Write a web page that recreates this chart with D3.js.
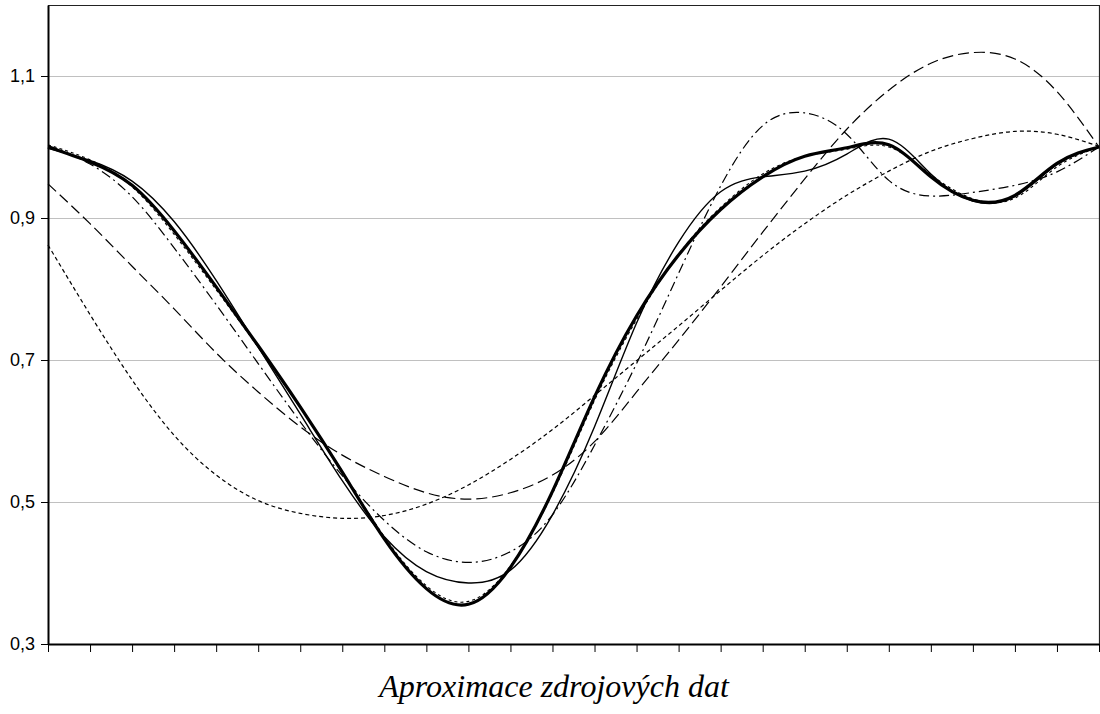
<!DOCTYPE html>
<head>
  <title>Aproximace zdrojových dat</title>
  <script type="text/javascript" src="https://d3js.org/d3.v7.min.js"></script>
  <style>
    body { margin: 0; background: #fff; }
    .grid { stroke: #c0c0c0; stroke-width: 1; }
    .axis text { font-family: "Liberation Sans", Arial, sans-serif; font-size: 18px; fill: #000; }
    .axis line { stroke: #000; stroke-width: 1; }
    .axis path { stroke: #000; stroke-width: 2; }
  </style>
</head>
<body>
<script type="text/javascript">
  // category positions (no labels on the x axis)
  var points = d3.range(0, 26);
  var yTicks = [0.3, 0.5, 0.7, 0.9, 1.1];
  var gridValues = [0.5, 0.7, 0.9, 1.1];

  // source data (thick line)
  var zdroj = [1.000, 0.979, 0.946, 0.882, 0.803, 0.720, 0.634, 0.542, 0.448, 0.378, 0.356, 0.408, 0.515,
               0.648, 0.762, 0.848, 0.912, 0.958, 0.987, 0.999, 1.003, 0.958, 0.925, 0.932, 0.977, 1.000];
  // approximations
  var aprox1 = [0.998, 0.981, 0.952, 0.895, 0.812, 0.718, 0.624, 0.530, 0.451, 0.402, 0.386, 0.404, 0.482,
                0.606, 0.752, 0.866, 0.937, 0.958, 0.966, 0.990, 1.011, 0.962, 0.924, 0.930, 0.975, 1.000];
  var aprox2 = [1.003, 0.982, 0.944, 0.877, 0.799, 0.718, 0.633, 0.543, 0.451, 0.382, 0.360, 0.410, 0.512,
                0.643, 0.757, 0.849, 0.915, 0.962, 0.987, 0.997, 1.000, 0.961, 0.927, 0.928, 0.972, 1.000];
  var aprox3 = [1.002, 0.976, 0.930, 0.858, 0.778, 0.695, 0.613, 0.537, 0.474, 0.430, 0.415, 0.430, 0.482,
                0.580, 0.695, 0.822, 0.945, 1.030, 1.048, 1.018, 0.953, 0.931, 0.936, 0.946, 0.965, 1.000];
  var aprox4 = [0.948, 0.892, 0.832, 0.772, 0.710, 0.655, 0.606, 0.566, 0.536, 0.513, 0.504, 0.513, 0.538,
                0.585, 0.655, 0.728, 0.803, 0.880, 0.955, 1.025, 1.080, 1.118, 1.133, 1.124, 1.078, 1.000];
  var aprox5 = [0.862, 0.764, 0.672, 0.594, 0.538, 0.502, 0.484, 0.477, 0.481, 0.497, 0.524, 0.560, 0.602,
                0.650, 0.699, 0.748, 0.798, 0.847, 0.892, 0.932, 0.966, 0.994, 1.012, 1.022, 1.018, 1.001];

  var w = 1100;
  var h = 714;
  // "top" is taken by window.top, so the plot edges get their own names
  var plotLeft = 48, plotRight = 1099, plotTop = 5, plotBottom = 644;

  var svg = d3.select("body")
              .append("svg")
              .attr("width", w)
              .attr("height", h);

  var xScale = d3.scaleLinear().domain([0, 25]).range([plotLeft, plotRight]);
  var yScale = d3.scaleLinear().domain([0.3, 1.2]).range([plotBottom, plotTop]);

  // grid lines
  svg.selectAll(".grid")
     .data(gridValues)
     .enter()
     .append("line")
     .attr("class", "grid")
     .attr("x1", plotLeft)
     .attr("x2", plotRight)
     .attr("y1", function(d) {return Math.round(yScale(d)) + 0.5;})
     .attr("y2", function(d) {return Math.round(yScale(d)) + 0.5;});

  // frame on top and right
  svg.append("path")
     .attr("d", "M" + plotLeft + "," + (plotTop + 0.5) + "H" + (plotRight + 0.5) + "V" + plotBottom)
     .attr("fill", "none")
     .attr("stroke", "#222")
     .attr("stroke-width", 1.2);

  var line = d3.line()
               .x(function(d, i) {return xScale(points[i]);})
               .y(function(d) {return yScale(d);})
               .curve(d3.curveNatural);

  var series = [
    {values: aprox5, width: 1.2, dash: "4,3"},
    {values: aprox4, width: 1.2, dash: "11,5"},
    {values: aprox3, width: 1.2, dash: "10,4,2,4"},
    {values: aprox2, width: 1.1, dash: "3,3"},
    {values: aprox1, width: 1.4, dash: null},
    {values: zdroj, width: 3.2, dash: null}
  ];

  svg.selectAll(".serie")
     .data(series)
     .enter()
     .append("path")
     .attr("class", "serie")
     .attr("d", function(d) {return line(d.values);})
     .attr("fill", "none")
     .attr("stroke", "#000")
     .attr("stroke-width", function(d) {return d.width;})
     .attr("stroke-dasharray", function(d) {return d.dash;})
     .attr("stroke-linejoin", "round");

  // axes
  svg.append("g")
     .attr("class", "axis")
     .attr("transform", "translate(" + plotLeft + ",0)")
     .call(d3.axisLeft(yScale)
             .tickValues(yTicks)
             .tickSize(7)
             .tickSizeOuter(0)
             .tickPadding(6)
             .tickFormat(function(d) {return d.toFixed(1).replace(".", ",");}));

  svg.append("g")
     .attr("class", "axis")
     .attr("transform", "translate(0," + plotBottom + ")")
     .call(d3.axisBottom(xScale)
             .tickValues(points)
             .tickSize(8)
             .tickSizeOuter(0)
             .tickFormat(""));

  svg.append("text")
     .attr("x", 554)
     .attr("y", 697)
     .attr("text-anchor", "middle")
     .style("font-family", "'Liberation Serif', 'Times New Roman', serif")
     .style("font-style", "italic")
     .style("font-size", "32px")
     .text("Aproximace zdrojových dat");
</script>
</body>
